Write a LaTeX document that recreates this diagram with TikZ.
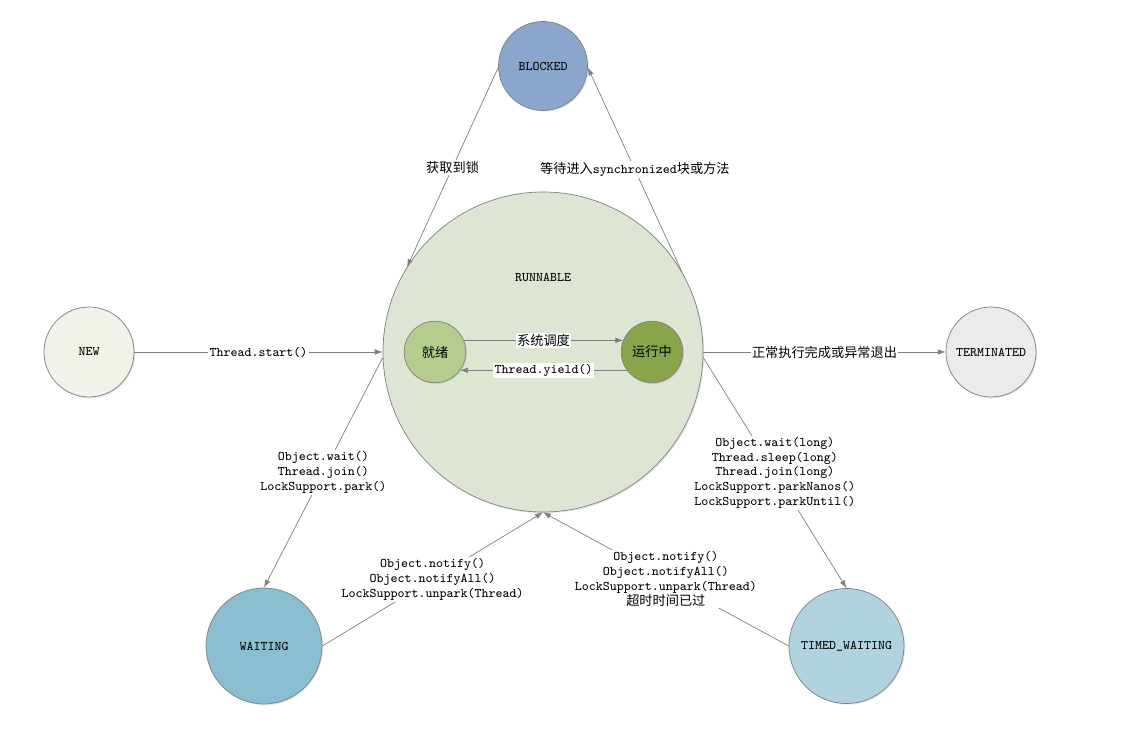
\documentclass[tikz,border=0pt]{standalone}
\usepackage{fontspec}
\newfontfamily\cjk{Noto Sans CJK SC}
\usetikzlibrary{arrows.meta,shadows}

\definecolor{linegray}{HTML}{7F7F7F}
\definecolor{blockedfill}{HTML}{8BA6CC}
\definecolor{runfill}{HTML}{DDE6D2}
\definecolor{newfill}{HTML}{F0F3E9}
\definecolor{termfill}{HTML}{EBEBEB}
\definecolor{readyfill}{HTML}{B5CC8F}
\definecolor{runningfill}{HTML}{88A54B}
\definecolor{waitfill}{HTML}{8ABFD2}
\definecolor{timedfill}{HTML}{B1D3E0}

\tikzset{
	state/.style={circle, draw=linegray, thin, inner sep=0pt,
		drop shadow={shadow xshift=0.7pt, shadow yshift=-0.7pt, opacity=0.2}},
	trans/.style={linegray, thin, -{Latex[length=4.5pt,width=3.2pt]}},
	lbl/.style={fill=white, inner sep=0.8pt, align=center, text=black}
}

\begin{document}
\begin{tikzpicture}[font=\ttfamily\fontsize{7.5}{8.5}\selectfont]
	\useasboundingbox (0,0) rectangle (22.76,14.62);

	% states
	\node[state, fill=runfill, minimum size=6.4cm] (run) at (10.86,7.58){};
	\node at (10.86,9.08){RUNNABLE};
	\node[state, fill=readyfill, minimum size=1.23cm] (ready) at (8.70,7.58){\cjk 就绪};
	\node[state, fill=runningfill, minimum size=1.23cm] (running) at (13.04,7.58){\cjk 运行中};
	\node[state, fill=blockedfill, minimum size=1.78cm] (blocked) at (10.86,13.30){BLOCKED};
	\node[state, fill=newfill, minimum size=1.80cm] (new) at (1.78,7.58){NEW};
	\node[state, fill=termfill, minimum size=1.80cm] (term) at (19.82,7.58){TERMINATED};
	\node[state, fill=waitfill, minimum size=2.32cm] (wait) at (5.28,1.70){WAITING};
	\node[state, fill=timedfill, minimum size=2.30cm] (timed) at (16.93,1.70){TIMED\_WAITING};

	% transitions
	\draw[trans](new.east) -- node[lbl]{Thread.start()} (run.180);
	\draw[trans](ready.22) -- node[lbl]{\cjk 系统调度} (running.158);
	\draw[trans](running.216) -- node[lbl]{Thread.yield()} (ready.-36);
	\draw[trans](run.east) -- node[lbl]{\cjk 正常执行完成或异常退出} (term.west);
	\draw[trans](blocked.182) -- node[lbl]{\cjk 获取到锁} (run.148);
	\draw[trans](run.30) -- node[lbl]{{\cjk 等待进入}synchronized{\cjk 块或方法}} (blocked.358);
	\draw[trans](run.182) -- node[lbl]{Object.wait()\\Thread.join()\\LockSupport.park()} (wait.north);
	\draw[trans](wait.east) -- node[lbl]{Object.notify()\\Object.notifyAll()\\LockSupport.unpark(Thread)} (run.south);
	\draw[trans](run.-2) -- node[lbl]{Object.wait(long)\\Thread.sleep(long)\\Thread.join(long)\\LockSupport.parkNanos()\\LockSupport.parkUntil()} (timed.north);
	\draw[trans](timed.west) -- node[lbl]{Object.notify()\\Object.notifyAll()\\LockSupport.unpark(Thread)\\{\cjk 超时时间已过}} (run.south);
\end{tikzpicture}
\end{document}
